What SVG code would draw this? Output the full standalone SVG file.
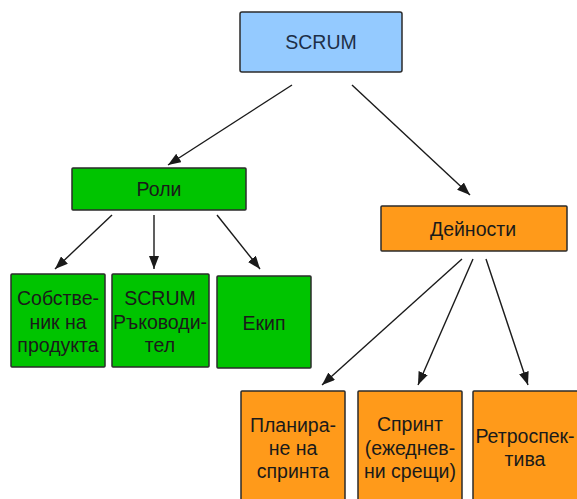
<svg xmlns="http://www.w3.org/2000/svg" width="577" height="499" viewBox="0 0 577 499">
  <style>
    .box { stroke: #2b2b2b; stroke-width: 1.5; }
    .blue { fill: #94caff; }
    .green { fill: #00c400; }
    .orange { fill: #ff9a1a; }
    text { font-family: "Liberation Sans", Arial, sans-serif; font-size: 19.5px; fill: #1a1a1a; text-anchor: middle; }
    .blue-t { fill: #1d2f47; }
    .edge { stroke: #1a1a1a; stroke-width: 1.4; fill: none; marker-end: url(#arrow); }
  </style>
  <defs>
    <marker id="arrow" viewBox="0 0 13 10" refX="13" refY="5" markerWidth="13" markerHeight="10" markerUnits="userSpaceOnUse" orient="auto">
      <path d="M0,0 L13,5 L0,10 Z" fill="#1a1a1a"/>
    </marker>
  </defs>

  <rect width="577" height="499" fill="#ffffff"/>

  <g id="connectors">
    <line class="edge" x1="292" y1="85" x2="168" y2="165"/>
    <line class="edge" x1="352" y1="85" x2="470" y2="195"/>
    <line class="edge" x1="112" y1="215" x2="55" y2="269"/>
    <line class="edge" x1="154" y1="215" x2="154" y2="269"/>
    <line class="edge" x1="217" y1="215" x2="260" y2="269"/>
    <line class="edge" x1="462" y1="259" x2="322" y2="385"/>
    <line class="edge" x1="473" y1="259" x2="418" y2="385"/>
    <line class="edge" x1="486" y1="259" x2="528" y2="385"/>
  </g>

  <g id="scrum">
    <rect class="box blue" x="240" y="12" width="162" height="60" rx="2"/>
    <text class="blue-t" x="321" y="49" font-size="20">SCRUM</text>
  </g>

  <g id="roles">
    <rect class="box green" x="72" y="168" width="174" height="42" rx="1"/>
    <text x="159" y="196" font-size="18.5">Роли</text>
  </g>

  <g id="product-owner">
    <rect class="box green" x="11" y="274" width="94" height="93" rx="1"/>
    <text x="58" y="305">Собстве-</text>
    <text x="58" y="329">ник на</text>
    <text x="58" y="352">продукта</text>
  </g>

  <g id="scrum-master">
    <rect class="box green" x="112" y="274" width="97" height="93" rx="1"/>
    <text x="160" y="305">SCRUM</text>
    <text x="160" y="329">Ръководи-</text>
    <text x="160" y="352">тел</text>
  </g>

  <g id="team">
    <rect class="box green" x="217" y="276" width="94" height="92" rx="1"/>
    <text x="264" y="330">Екип</text>
  </g>

  <g id="activities">
    <rect class="box orange" x="381" y="206" width="186" height="45" rx="1"/>
    <text x="473" y="236">Дейности</text>
  </g>

  <g id="sprint-planning">
    <rect class="box orange" x="241" y="391" width="104" height="120" rx="1"/>
    <text x="293" y="432">Планира-</text>
    <text x="293" y="455">не на</text>
    <text x="293" y="478">спринта</text>
  </g>

  <g id="sprint">
    <rect class="box orange" x="358" y="391" width="104" height="120" rx="1"/>
    <text x="410" y="431">Спринт</text>
    <text x="410" y="455">(ежеднев-</text>
    <text x="410" y="478">ни срещи)</text>
  </g>

  <g id="retrospective">
    <rect class="box orange" x="473" y="391" width="110" height="120" rx="1"/>
    <text x="525" y="443">Ретроспек-</text>
    <text x="525" y="466">тива</text>
  </g>
</svg>
